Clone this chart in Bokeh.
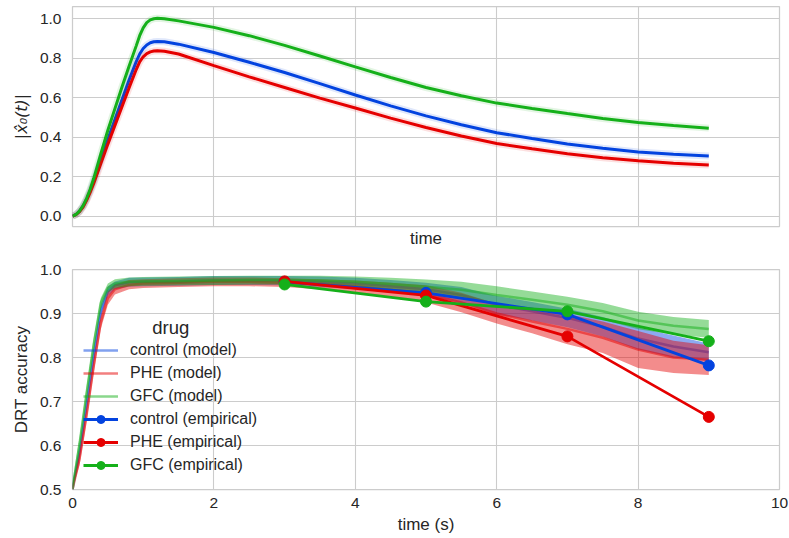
from bokeh.plotting import figure
from bokeh.layouts import column
from bokeh.models import (Legend, LegendItem, Label, FixedTicker, Range1d,
                          NumeralTickFormatter)
from bokeh.embed import file_html
from bokeh.resources import INLINE

# ---------------- data: top panel (model |x0(t)|) ----------------
t_top = [0, 0.05, 0.1, 0.15, 0.2, 0.25, 0.3, 0.4, 0.5, 0.6, 0.7, 0.8, 0.9,
         0.95, 1.0, 1.05, 1.1, 1.15, 1.2, 1.3, 1.5, 2.0, 2.5, 3.0, 3.5, 4.0,
         4.5, 5.0, 5.5, 6.0, 6.5, 7.0, 7.5, 8.0, 8.5, 9.0]
control_x0 = [0, 0.008, 0.025, 0.05, 0.085, 0.128, 0.175, 0.285, 0.39,
              0.49, 0.59, 0.69, 0.782, 0.822, 0.85, 0.868, 0.879, 0.884,
              0.886, 0.884, 0.872, 0.83, 0.78, 0.728, 0.672, 0.614, 0.559,
              0.508, 0.463, 0.423, 0.393, 0.366, 0.344, 0.325, 0.313, 0.305]
phe_x0 = [0, 0.007, 0.022, 0.046, 0.08, 0.12, 0.165, 0.265, 0.365, 0.46,
          0.555, 0.65, 0.742, 0.782, 0.808, 0.824, 0.833, 0.837, 0.839,
          0.836, 0.822, 0.763, 0.706, 0.652, 0.598, 0.548, 0.497, 0.449,
          0.406, 0.368, 0.341, 0.316, 0.296, 0.28, 0.268, 0.259]
gfc_x0 = [0, 0.008, 0.026, 0.053, 0.09, 0.136, 0.19, 0.315, 0.435, 0.545,
          0.655, 0.76, 0.862, 0.915, 0.955, 0.981, 0.995, 1.001, 1.003,
          1.001, 0.99, 0.957, 0.915, 0.866, 0.812, 0.757, 0.703, 0.652,
          0.61, 0.573, 0.546, 0.52, 0.495, 0.474, 0.459, 0.446]

# ---------------- data: bottom panel (DRT accuracy) ----------------
t_model = [0, 0.1, 0.2, 0.3, 0.4, 0.5, 0.6, 0.8, 1.0, 1.5, 2.0, 2.5, 3.0,
           3.5, 4.0, 4.5, 5.0, 5.5, 6.0, 6.5, 7.0, 7.5, 8.0, 8.5, 9.0]
control_mean = [0.5, 0.585, 0.695, 0.805, 0.905, 0.95, 0.964, 0.971, 0.972,
                0.973, 0.975, 0.975, 0.975, 0.972, 0.968, 0.962, 0.955,
                0.942, 0.92, 0.905, 0.89, 0.87, 0.843, 0.825, 0.812]
control_lo = [0.5, 0.57, 0.68, 0.79, 0.89, 0.94, 0.955, 0.961, 0.962, 0.963,
              0.965, 0.965, 0.964, 0.96, 0.955, 0.948, 0.94, 0.924, 0.898,
              0.884, 0.869, 0.848, 0.818, 0.8, 0.792]
control_hi = [0.515, 0.6, 0.71, 0.82, 0.92, 0.962, 0.973, 0.981, 0.982,
              0.983, 0.985, 0.985, 0.985, 0.984, 0.981, 0.976, 0.97, 0.96,
              0.94, 0.926, 0.911, 0.892, 0.868, 0.85, 0.832]
phe_mean = [0.5, 0.57, 0.67, 0.78, 0.88, 0.935, 0.955, 0.965, 0.968, 0.97,
            0.972, 0.972, 0.97, 0.967, 0.962, 0.954, 0.945, 0.925, 0.9,
            0.882, 0.865, 0.845, 0.818, 0.8, 0.795]
phe_lo = [0.5, 0.555, 0.655, 0.765, 0.865, 0.92, 0.943, 0.955, 0.958, 0.96,
          0.962, 0.962, 0.96, 0.955, 0.948, 0.938, 0.925, 0.903, 0.877,
          0.855, 0.83, 0.81, 0.776, 0.765, 0.76]
phe_hi = [0.51, 0.585, 0.685, 0.795, 0.895, 0.95, 0.966, 0.976, 0.978, 0.98,
          0.982, 0.982, 0.98, 0.978, 0.975, 0.97, 0.964, 0.947, 0.922, 0.91,
          0.899, 0.882, 0.86, 0.838, 0.828]
gfc_mean = [0.5, 0.605, 0.72, 0.83, 0.925, 0.958, 0.968, 0.972, 0.973,
            0.974, 0.975, 0.976, 0.976, 0.975, 0.972, 0.967, 0.961, 0.954,
            0.942, 0.931, 0.92, 0.905, 0.884, 0.872, 0.865]
gfc_lo = [0.5, 0.59, 0.705, 0.815, 0.91, 0.948, 0.958, 0.962, 0.963, 0.964,
          0.965, 0.966, 0.966, 0.964, 0.96, 0.953, 0.945, 0.936, 0.922,
          0.912, 0.902, 0.886, 0.864, 0.852, 0.845]
gfc_hi = [0.52, 0.62, 0.735, 0.845, 0.935, 0.968, 0.978, 0.982, 0.983,
          0.984, 0.985, 0.986, 0.986, 0.986, 0.984, 0.981, 0.977, 0.972,
          0.962, 0.95, 0.938, 0.924, 0.904, 0.892, 0.885]

t_emp = [3, 5, 7, 9]
control_emp = [0.972, 0.947, 0.898, 0.782]
phe_emp = [0.973, 0.941, 0.848, 0.665]
gfc_emp = [0.966, 0.927, 0.905, 0.837]

names = ["control", "PHE", "GFC"]
colors = ["#0343df", "#e50000", "#15b01a"]

x_ticks = [0, 2, 4, 6, 8, 10]
top_y_ticks = [0.0, 0.2, 0.4, 0.6, 0.8, 1.0]
bot_y_ticks = [0.5, 0.6, 0.7, 0.8, 0.9, 1.0]

FONT = "Liberation Sans"
TXT = "#262626"
GRID = "#cccccc"


def style(p, yticks, show_x_labels):
    p.outline_line_color = GRID
    p.outline_line_width = 1.25
    p.background_fill_color = "white"
    p.border_fill_color = "white"
    for ax in p.axis:
        ax.axis_line_color = None
        ax.major_tick_line_color = None
        ax.minor_tick_line_color = None
        ax.major_tick_out = 0
        ax.major_tick_in = 0
        ax.minor_tick_out = 0
        ax.minor_tick_in = 0
        ax.major_label_text_font = FONT
        ax.major_label_text_color = TXT
        ax.major_label_text_font_size = "15.5px"
        ax.axis_label_text_font = FONT
        ax.axis_label_text_color = TXT
        ax.axis_label_text_font_size = "17px"
        ax.axis_label_text_font_style = "normal"
    p.yaxis.ticker = FixedTicker(ticks=yticks)
    p.xaxis.formatter = NumeralTickFormatter(format="0")
    p.yaxis.formatter = NumeralTickFormatter(format="0.0")
    p.yaxis.major_label_standoff = 11
    p.yaxis.axis_label_standoff = 6
    p.xgrid.ticker = FixedTicker(ticks=x_ticks)
    p.ygrid.ticker = FixedTicker(ticks=yticks)
    for g in (p.xgrid, p.ygrid):
        g.grid_line_color = GRID
        g.grid_line_width = 1.1
    if show_x_labels:
        p.xaxis.ticker = FixedTicker(ticks=x_ticks)
        p.xaxis.major_label_standoff = 8
        p.xaxis.axis_label_standoff = 4
    else:
        p.xaxis.ticker = FixedTicker(ticks=[])
        p.xaxis.major_label_standoff = 0
        p.xaxis.axis_label_standoff = 2


# ---------------- top figure ----------------
p1 = figure(width=789, height=250, x_range=Range1d(0, 10),
            y_range=Range1d(-0.053, 1.063), output_backend="svg",
            toolbar_location=None, min_border_left=72, min_border_right=10,
            min_border_top=6, min_border_bottom=24)
style(p1, top_y_ticks, False)
p1.xaxis.axis_label = "time"
p1.yaxis.axis_label = "|x\u0302\u2080(t)|"
p1.yaxis.axis_label_text_font = "DejaVu Sans"
p1.yaxis.axis_label_text_font_style = "italic"
p1.yaxis.axis_label_text_font_size = "16px"

for ys, c in zip([control_x0, phe_x0, gfc_x0], colors):
    p1.line(t_top, ys, line_color=c, line_width=7, line_alpha=0.12)
    p1.line(t_top, ys, line_color=c, line_width=3)

# ---------------- bottom figure ----------------
p2 = figure(width=789, height=288, x_range=Range1d(0, 10),
            y_range=Range1d(0.5, 1.0), output_backend="svg",
            toolbar_location=None, min_border_left=72, min_border_right=10,
            min_border_top=19, min_border_bottom=49)
style(p2, bot_y_ticks, True)
p2.xaxis.axis_label = "time (s)"
p2.yaxis.axis_label = "DRT accuracy"

model_items = []
for mean, lo, hi, c, n in zip([control_mean, phe_mean, gfc_mean],
                              [control_lo, phe_lo, gfc_lo],
                              [control_hi, phe_hi, gfc_hi], colors, names):
    p2.varea(x=t_model, y1=lo, y2=hi, fill_color=c, fill_alpha=0.45)
    r = p2.line(t_model, mean, line_color=c, line_width=2.5, line_alpha=0.5)
    model_items.append(LegendItem(label=n + " (model)", renderers=[r]))

emp_items = []
for ys, c, n in zip([control_emp, phe_emp, gfc_emp], colors, names):
    rl = p2.line(t_emp, ys, line_color=c, line_width=2.8)
    rs = p2.scatter(t_emp, ys, size=11, fill_color=c, line_color=c)
    emp_items.append(LegendItem(label=n + " (empirical)", renderers=[rl, rs]))

legend = Legend(items=model_items + emp_items, location=(11, 14),
                background_fill_alpha=0, border_line_color=None,
                label_text_font=FONT, label_text_color=TXT,
                label_text_font_size="16px", glyph_width=35,
                glyph_height=20, label_height=20, spacing=3,
                label_standoff=12, padding=0, margin=0)
p2.add_layout(legend)

p2.add_layout(Label(x=1.39, y=0.868, text="drug", text_align="center",
                    text_baseline="middle", text_font=FONT,
                    text_font_size="18.5px", text_color=TXT))

layout = column(p1, p2, spacing=0)
open("out.html", "w").write(file_html(layout, INLINE))
